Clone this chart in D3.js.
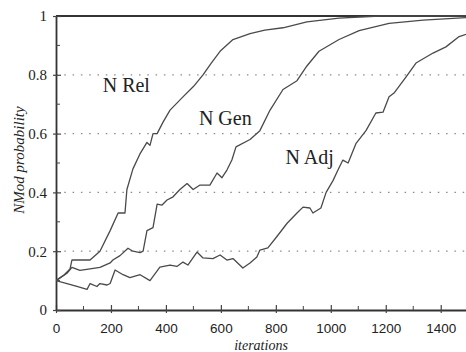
<!DOCTYPE html>
<html>
<head>
<meta charset="utf-8">
<script src="https://cdn.jsdelivr.net/npm/d3@7/dist/d3.min.js"></script>
<style>
  html, body { margin: 0; padding: 0; background: #fff; }
  svg { display: block; }
</style>
</head>
<body>
<div id="chart"></div>
<script>
// ---- data ----
const seriesNames = ["N Rel", "N Gen", "N Adj"];
const xTickValues = [0, 200, 400, 600, 800, 1000, 1200, 1400];
const xMinorTicks = [100, 300, 500, 700, 900, 1100, 1300, 1500];
const yTickValues = [0, 0.2, 0.4, 0.6, 0.8, 1];
const yTickLabels = ["0", "0.2", "0.4", "0.6", "0.8", "1"];
const yMinorTicks = [0.1, 0.3, 0.5, 0.7, 0.9];
const gridValues = [0.2, 0.4, 0.6, 0.8];

const nRel = [
  [0,0.10],[30,0.12],[51,0.14],[58,0.17],[124,0.17],[160,0.20],[197,0.27],[226,0.33],
  [251,0.33],[258,0.41],[280,0.48],[305,0.53],[331,0.57],[342,0.56],[353,0.60],[368,0.60],
  [390,0.64],[415,0.68],[462,0.725],[500,0.76],[535,0.80],[565,0.84],[597,0.88],[644,0.92],
  [706,0.94],[760,0.952],[826,0.96],[913,0.98],[1030,0.993],[1179,1.0],[1500,1.0]
];
const nGen = [
  [0,0.10],[40,0.125],[58,0.145],[87,0.135],[124,0.14],[160,0.145],[197,0.16],[207,0.17],
  [233,0.185],[262,0.21],[280,0.20],[306,0.195],[317,0.20],[331,0.27],[353,0.28],[368,0.36],
  [386,0.357],[404,0.374],[426,0.385],[451,0.41],[477,0.43],[499,0.41],[524,0.425],[560,0.425],
  [586,0.466],[604,0.45],[622,0.476],[640,0.51],[655,0.555],[706,0.58],[742,0.61],[779,0.68],
  [826,0.75],[877,0.78],[913,0.83],[957,0.88],[1030,0.92],[1103,0.95],[1212,0.975],[1336,0.986],
  [1500,0.995]
];
const nAdj = [
  [0,0.10],[40,0.09],[76,0.08],[113,0.07],[124,0.09],[149,0.08],[160,0.09],[186,0.085],
  [197,0.09],[215,0.136],[244,0.12],[269,0.11],[306,0.12],[342,0.10],[378,0.146],[415,0.153],
  [440,0.148],[462,0.163],[480,0.153],[513,0.197],[535,0.177],[571,0.175],[597,0.187],[622,0.17],
  [644,0.175],[680,0.143],[706,0.16],[731,0.18],[742,0.204],[771,0.211],[804,0.25],[841,0.295],
  [877,0.33],[899,0.35],[924,0.347],[935,0.33],[964,0.347],[983,0.40],[1008,0.44],[1026,0.476],
  [1044,0.51],[1063,0.50],[1092,0.567],[1128,0.61],[1164,0.67],[1190,0.673],[1212,0.725],
  [1230,0.738],[1274,0.793],[1310,0.84],[1372,0.874],[1419,0.895],[1467,0.93],[1500,0.94]
];
const labelAnchors = [[170, 0.74], [520, 0.63], [835, 0.495]];

// ---- drawing ----
const W = 466, H = 352;
const svg = d3.select("#chart").append("svg").attr("width", W).attr("height", H);

const x = d3.scaleLinear().domain([0, 1500]).range([56, 468.2]);
const y = d3.scaleLinear().domain([0, 1]).range([310, 16]);

// dotted grid
svg.append("g").selectAll("line").data(gridValues).join("line")
  .attr("x1", x(0)).attr("x2", W)
  .attr("y1", d => y(d)).attr("y2", d => y(d))
  .attr("stroke", "#8a8a8a").attr("stroke-width", 1.3)
  .attr("stroke-dasharray", "1.5,6.8");

// top frame
svg.append("line").attr("x1", x(0)).attr("x2", W).attr("y1", y(1)).attr("y2", y(1))
  .attr("stroke", "#333").attr("stroke-width", 1.8);

// x axis
const xAxis = svg.append("g").attr("transform", `translate(0,${y(0)})`)
  .call(d3.axisBottom(x).tickValues(xTickValues).tickSize(3).tickPadding(10).tickFormat(d3.format("d")).tickSizeOuter(0));
xAxis.select(".domain").attr("stroke", "#333").attr("stroke-width", 1.8);
xAxis.selectAll(".tick line").attr("y1", -5).attr("y2", 3).attr("stroke", "#444").attr("stroke-width", 1.2);
xAxis.selectAll(".tick text").attr("font-family", "'Liberation Sans', Arial, sans-serif")
  .attr("font-size", 13.5).attr("fill", "#222");
svg.append("g").selectAll("line").data(xMinorTicks).join("line")
  .attr("x1", d => x(d)).attr("x2", d => x(d)).attr("y1", y(0) - 4).attr("y2", y(0))
  .attr("stroke", "#444").attr("stroke-width", 1);

// y axis
const yAxis = svg.append("g").attr("transform", `translate(${x(0)},0)`)
  .call(d3.axisLeft(y).tickValues(yTickValues).tickSize(3).tickPadding(6)
    .tickFormat((d, i) => yTickLabels[i]).tickSizeOuter(0));
yAxis.select(".domain").attr("stroke", "#333").attr("stroke-width", 1.8);
yAxis.selectAll(".tick line").attr("x1", -3).attr("x2", 5).attr("stroke", "#444").attr("stroke-width", 1.2);
yAxis.selectAll(".tick text").attr("font-family", "'Liberation Serif', 'Times New Roman', serif")
  .attr("font-size", 15).attr("fill", "#222");
svg.append("g").selectAll("line").data(yMinorTicks).join("line")
  .attr("x1", x(0)).attr("x2", x(0) + 4).attr("y1", d => y(d)).attr("y2", d => y(d))
  .attr("stroke", "#444").attr("stroke-width", 1);

// curves
const line = d3.line().x(d => x(d[0])).y(d => y(d[1]));
const clip = svg.append("clipPath").attr("id", "clip").append("rect")
  .attr("x", x(0)).attr("y", 0).attr("width", W - x(0)).attr("height", H);
[nRel, nGen, nAdj].forEach(s => {
  svg.append("path").datum(s).attr("d", line).attr("fill", "none")
    .attr("stroke", "#4a4a4a").attr("stroke-width", 1.3).attr("stroke-linejoin", "round")
    .attr("clip-path", "url(#clip)");
});

// series labels
svg.append("g").selectAll("text").data(seriesNames).join("text")
  .attr("x", (d, i) => x(labelAnchors[i][0]))
  .attr("y", (d, i) => y(labelAnchors[i][1]))
  .attr("font-family", "'Liberation Serif', 'Times New Roman', serif")
  .attr("font-size", 20).attr("fill", "#222")
  .text(d => d);

// axis titles
svg.append("text").attr("x", 261).attr("y", 349.5).attr("text-anchor", "middle")
  .attr("font-family", "'Liberation Serif', 'Times New Roman', serif").attr("font-style", "italic")
  .attr("font-size", 14).attr("fill", "#222").text("iterations");
svg.append("text").attr("transform", "translate(24,160) rotate(-90)").attr("text-anchor", "middle")
  .attr("font-family", "'Liberation Serif', 'Times New Roman', serif").attr("font-style", "italic")
  .attr("font-size", 15).attr("fill", "#222").text("NMod probability");
</script>
</body>
</html>
